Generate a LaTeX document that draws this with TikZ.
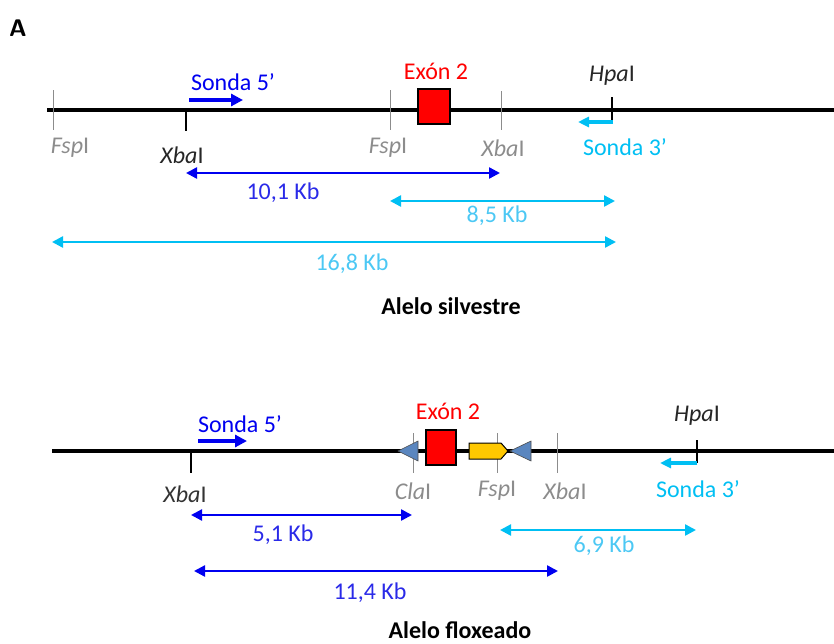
\documentclass[tikz,border=0pt]{standalone}
\usepackage{fontspec}
\setmainfont{Carlito}
\usetikzlibrary{arrows.meta,shapes.arrows,shapes.geometric}
\definecolor{probeblue}{HTML}{0000F0}
\definecolor{kbblue}{HTML}{2A2AE8}
\definecolor{probecyan}{HTML}{00BFF3}
\definecolor{kbcyan}{HTML}{4CC8F4}
\definecolor{siteg}{HTML}{8C8C8C}
\definecolor{loxc}{HTML}{5A86BF}
\definecolor{neoc}{HTML}{FFC800}
\definecolor{exred}{HTML}{FF0000}
\begin{document}
\begin{tikzpicture}[x=1pt,y=-1pt,
  txt/.style={font=\fontsize{24}{26}\selectfont, inner sep=0pt},
  dna/.style={line width=3.6pt, black},
  gtick/.style={siteg, line width=1pt},
  btick/.style={black, line width=1.2pt},
  probe/.style={line width=4.5pt, -{Triangle[length=12pt,width=12pt]}},
  frag/.style={line width=2.4pt, {Triangle[length=11pt,width=11pt]}-{Triangle[length=11pt,width=11pt]}},
  exon/.style={draw=black, line width=2pt, fill=exred},
  lox/.style={draw=black!70, line width=0.6pt, fill=loxc},
]
\useasboundingbox (0,0) rectangle (834,643);
\node[txt, font=\fontsize{24}{26}\selectfont\bfseries\sffamily] (A) at (18,28) {A};

% ---------- Alelo silvestre ----------
\coordinate (L1a) at (47,110);
\coordinate (L1b) at (834,110);
\draw[dna] (L1a) -- (L1b);
\coordinate (f1t) at (53,90);  \coordinate (f1b) at (53,130);
\coordinate (x1t) at (186,110); \coordinate (x1b) at (186,131);
\coordinate (f2t) at (390,90); \coordinate (f2b) at (390,130);
\coordinate (x2t) at (501,91); \coordinate (x2b) at (501,130);
\coordinate (h1t) at (612,97); \coordinate (h1b) at (612,121);
\draw[gtick] (f1t) -- (f1b);
\draw[btick] (x1t) -- (x1b);
\draw[gtick] (f2t) -- (f2b);
\draw[gtick] (x2t) -- (x2b);
\draw[btick] (h1t) -- (h1b);
\node[exon, minimum width=32pt, minimum height=35pt, inner sep=0pt] (ex1) at (434,106.5) {};
\node[txt, exred] (ex1l) at (436,71) {Exón 2};
\node[txt, siteg] (lf1) at (70,148) {\textit{Fsp}I};
\node[txt, black!85] (lx1) at (182,155) {\textit{Xba}I};
\node[txt, siteg] (lf2) at (388,148) {\textit{Fsp}I};
\node[txt, siteg] (lx2) at (503,148) {\textit{Xba}I};
\node[txt, black!85] (lh1) at (612,76) {\textit{Hpa}I};
\node[txt, probeblue] (s5l) at (233,82) {Sonda 5’};
\coordinate (s5a) at (189,100); \coordinate (s5b) at (243,100);
\draw[probe, probeblue] (s5a) -- (s5b);
\coordinate (s3a) at (613,122); \coordinate (s3b) at (578,122);
\draw[probe, probecyan, line width=3.5pt, -{Triangle[length=11pt,width=10pt]}] (s3a) -- (s3b);
\node[txt, probecyan] (s3l) at (625,147) {Sonda 3’};
\coordinate (k1a) at (186,173); \coordinate (k1b) at (500,173);
\draw[frag, probeblue] (k1a) -- (k1b);
\node[txt, kbblue] (k1l) at (283,193) {10,1 Kb};
\coordinate (k2a) at (390,201); \coordinate (k2b) at (615,201);
\draw[frag, probecyan] (k2a) -- (k2b);
\node[txt, kbcyan] (k2l) at (497,216) {8,5 Kb};
\coordinate (k3a) at (52,242); \coordinate (k3b) at (616,242);
\draw[frag, probecyan] (k3a) -- (k3b);
\node[txt, kbcyan] (k3l) at (352,264) {16,8 Kb};
\node[txt, font=\fontsize{24}{26}\selectfont\bfseries, black] (t1) at (451,306) {Alelo silvestre};

% ---------- Alelo floxeado ----------
\coordinate (L2a) at (52,451);
\coordinate (L2b) at (834,451);
\draw[dna] (L2a) -- (L2b);
\coordinate (x3t) at (191,451); \coordinate (x3b) at (191,473);
\coordinate (c1t) at (413,433); \coordinate (c1b) at (413,473);
\coordinate (f3t) at (497,433); \coordinate (f3b) at (497,473);
\coordinate (x4t) at (557,433); \coordinate (x4b) at (557,473);
\coordinate (h2t) at (697,440); \coordinate (h2b) at (697,463);
\draw[btick] (x3t) -- (x3b);
\draw[gtick] (c1t) -- (c1b);
\draw[gtick] (f3t) -- (f3b);
\draw[gtick] (x4t) -- (x4b);
\draw[btick] (h2t) -- (h2b);
% loxP left
\draw[lox] (398,451) -- (418,441) -- (418,461) -- cycle;
\node[exon, minimum width=30pt, minimum height=35pt, inner sep=0pt] (ex2) at (441,447.5) {};
\node[txt, exred] (ex2l) at (448,411) {Exón 2};
% neo cassette
\draw[draw=black, line width=1pt, fill=neoc] (469,443) -- (501,443) -- (508,451) -- (501,459) -- (469,459) -- cycle;
% loxP right
\draw[lox] (510,451) -- (531,441) -- (531,461) -- cycle;
\node[txt, black!80] (lx3) at (185,494) {\textit{Xba}I};
\node[txt, siteg] (lc1) at (413,491) {\textit{Cla}I};
\node[txt, siteg] (lf3) at (497,491) {\textit{Fsp}I};
\node[txt, siteg] (lx4) at (565,491) {\textit{Xba}I};
\node[txt, black!85] (lh2) at (697,416) {\textit{Hpa}I};
\node[txt, probeblue] (s5l2) at (240,424) {Sonda 5’};
\coordinate (s52a) at (198,441); \coordinate (s52b) at (247,441);
\draw[probe, probeblue] (s52a) -- (s52b);
\coordinate (s32a) at (697,463); \coordinate (s32b) at (660,463);
\draw[probe, probecyan, line width=3.5pt, -{Triangle[length=11pt,width=10pt]}] (s32a) -- (s32b);
\node[txt, probecyan] (s32l) at (698,489) {Sonda 3’};
\coordinate (k4a) at (191,515); \coordinate (k4b) at (412,515);
\draw[frag, probeblue] (k4a) -- (k4b);
\node[txt, kbblue] (k4l) at (283,535) {5,1 Kb};
\coordinate (k5a) at (500,530); \coordinate (k5b) at (696,530);
\draw[frag, probecyan] (k5a) -- (k5b);
\node[txt, kbcyan] (k5l) at (604,546) {6,9 Kb};
\coordinate (k6a) at (194,571); \coordinate (k6b) at (558,571);
\draw[frag, probeblue] (k6a) -- (k6b);
\node[txt, kbblue] (k6l) at (370,593) {11,4 Kb};
\node[txt, font=\fontsize{24}{26}\selectfont\bfseries, black] (t2) at (460,630) {Alelo floxeado};
\end{tikzpicture}
\end{document}
